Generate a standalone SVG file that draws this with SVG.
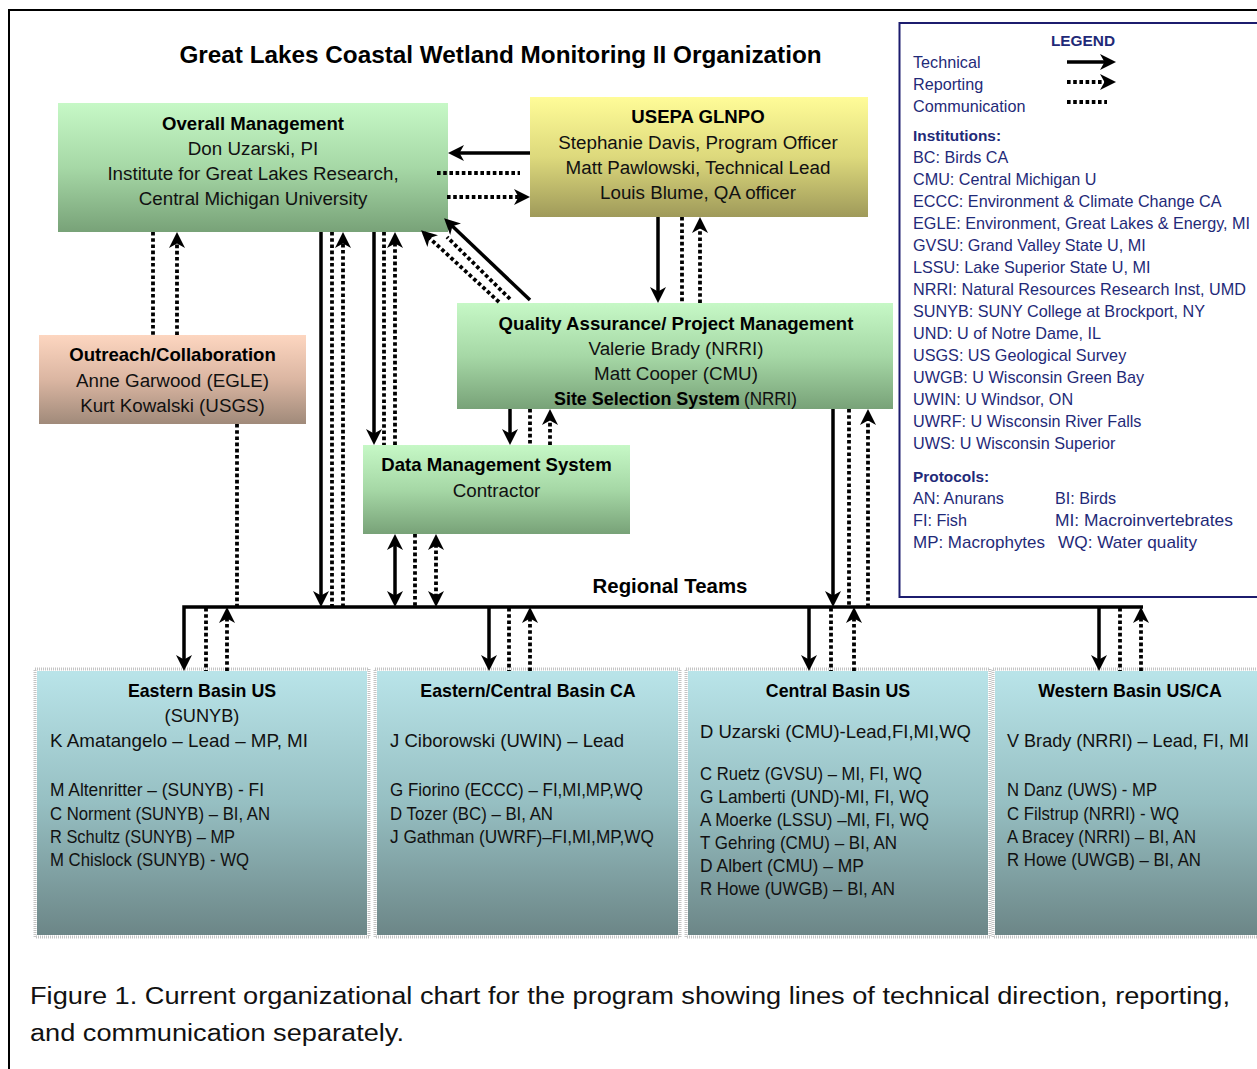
<svg xmlns="http://www.w3.org/2000/svg" width="1257" height="1069" viewBox="0 0 1257 1069">
<defs>
<linearGradient id="gGreen" x1="0" y1="0" x2="0" y2="1"><stop offset="0" stop-color="#c6f8c6"/><stop offset="0.5" stop-color="#a6d8a6"/><stop offset="1" stop-color="#78a278"/></linearGradient>
<linearGradient id="gYellow" x1="0" y1="0" x2="0" y2="1"><stop offset="0" stop-color="#fffc98"/><stop offset="0.5" stop-color="#ddd97c"/><stop offset="1" stop-color="#9f9a5a"/></linearGradient>
<linearGradient id="gSalmon" x1="0" y1="0" x2="0" y2="1"><stop offset="0" stop-color="#fdd6c0"/><stop offset="0.5" stop-color="#dbb6a2"/><stop offset="1" stop-color="#a08a7a"/></linearGradient>
<linearGradient id="gBlue" x1="0" y1="0" x2="0" y2="1"><stop offset="0" stop-color="#b9e4e9"/><stop offset="0.5" stop-color="#96bfc2"/><stop offset="1" stop-color="#6c8687"/></linearGradient>
<marker id="ah" markerUnits="userSpaceOnUse" markerWidth="16" markerHeight="16" viewBox="0 0 16 16" refX="12" refY="8" orient="auto-start-reverse"><path d="M0,0 L16,8 L0,16 L4.5,8 Z" fill="#000"/></marker>
</defs>
<style>
text{font-family:"Liberation Sans",Arial,sans-serif;}
.ttl{font-size:24.3px;font-weight:bold;fill:#000;text-anchor:middle;}
.bx{font-size:18.8px;fill:#111;text-anchor:middle;}
.bxb{font-size:18.6px;font-weight:bold;fill:#000;text-anchor:middle;}
.st{text-anchor:start;}
.leg{font-size:16.2px;fill:#1f2a78;}
.legb{font-size:15.4px;font-weight:bold;fill:#1f2a78;}
.tm{font-size:18.2px;fill:#111;}
.tmb{font-size:17.8px;font-weight:bold;fill:#000;text-anchor:middle;}
.cap{font-size:23px;fill:#111;}
.sol{stroke:#000;stroke-width:3.5;fill:none;}
.dot{stroke:#000;stroke-width:3.8;fill:none;stroke-dasharray:3.6 2.6;}
.arr{marker-end:url(#ah);}
.arr2{marker-start:url(#ah);marker-end:url(#ah);}
.shadow{fill:none;stroke:#c4c4c4;stroke-width:3;stroke-dasharray:1 1;}
</style>
<rect x="0" y="0" width="1257" height="1069" fill="#fff"/>
<rect x="9" y="10" width="1262" height="1075" fill="#fff" stroke="#000" stroke-width="2"/>
<text class="ttl" x="500.5" y="63">Great Lakes Coastal Wetland Monitoring II Organization</text>

<g id="legend">
<rect x="899.5" y="23" width="372" height="574" fill="#fff" stroke="#1c1c6e" stroke-width="2"/>
<text class="legb" x="1083" y="46" style="text-anchor:middle">LEGEND</text>
<text class="leg" x="913" y="68">Technical</text>
<text class="leg" x="913" y="90">Reporting</text>
<text class="leg" x="913" y="112">Communication</text>
<line class="sol arr" x1="1067" y1="62" x2="1112" y2="62"/>
<line class="dot arr" x1="1067" y1="82" x2="1112" y2="82"/>
<line class="dot" x1="1067" y1="102" x2="1107" y2="102"/>
<text class="legb" x="913" y="141">Institutions:</text>
<text class="leg" x="913" y="163">BC: Birds CA</text>
<text class="leg" x="913" y="185">CMU: Central Michigan U</text>
<text class="leg" x="913" y="207">ECCC: Environment &amp; Climate Change CA</text>
<text class="leg" x="913" y="229">EGLE: Environment, Great Lakes &amp; Energy, MI</text>
<text class="leg" x="913" y="251">GVSU: Grand Valley State U, MI</text>
<text class="leg" x="913" y="273">LSSU: Lake Superior State U, MI</text>
<text class="leg" x="913" y="295">NRRI: Natural Resources Research Inst, UMD</text>
<text class="leg" x="913" y="317">SUNYB: SUNY College at Brockport, NY</text>
<text class="leg" x="913" y="339">UND: U of Notre Dame, IL</text>
<text class="leg" x="913" y="361">USGS: US Geological Survey</text>
<text class="leg" x="913" y="383">UWGB: U Wisconsin Green Bay</text>
<text class="leg" x="913" y="405">UWIN: U Windsor, ON</text>
<text class="leg" x="913" y="427">UWRF: U Wisconsin River Falls</text>
<text class="leg" x="913" y="449">UWS: U Wisconsin Superior</text>
<text class="legb" x="913" y="482">Protocols:</text>
<text class="leg" x="913" y="504">AN: Anurans</text>
<text class="leg" x="1055" y="504">BI: Birds</text>
<text class="leg" x="913" y="526">FI: Fish</text>
<text class="leg" x="1055" y="526" textLength="178" lengthAdjust="spacingAndGlyphs">MI: Macroinvertebrates</text>
<text class="leg" x="913" y="548" textLength="132" lengthAdjust="spacingAndGlyphs">MP: Macrophytes</text>
<text class="leg" x="1058" y="548" textLength="139" lengthAdjust="spacingAndGlyphs">WQ: Water quality</text>
</g>

<g id="overall">
<rect x="58" y="103" width="390" height="129" fill="url(#gGreen)"/>
<text class="bxb" x="253" y="130">Overall Management</text>
<text class="bx" x="253" y="155">Don Uzarski, PI</text>
<text class="bx" x="253" y="180">Institute for Great Lakes Research,</text>
<text class="bx" x="253" y="205">Central Michigan University</text>
</g>

<g id="usepa">
<rect x="530" y="97" width="338" height="120" fill="url(#gYellow)"/>
<text class="bxb" x="698" y="123">USEPA GLNPO</text>
<text class="bx" x="698" y="149">Stephanie Davis, Program Officer</text>
<text class="bx" x="698" y="174">Matt Pawlowski, Technical Lead</text>
<text class="bx" x="698" y="199">Louis Blume, QA officer</text>
</g>

<g id="qa">
<rect x="457" y="303" width="436" height="106" fill="url(#gGreen)"/>
<text class="bxb" x="676" y="330">Quality Assurance/ Project Management</text>
<text class="bx" x="676" y="355">Valerie Brady (NRRI)</text>
<text class="bx" x="676" y="380">Matt Cooper (CMU)</text>
<text class="bxb st" x="554" y="405" textLength="186" lengthAdjust="spacingAndGlyphs">Site Selection System</text>
<text class="bx st" x="744" y="405" textLength="53" lengthAdjust="spacingAndGlyphs">(NRRI)</text>
</g>

<g id="outreach">
<rect x="39" y="335" width="267" height="89" fill="url(#gSalmon)"/>
<text class="bxb" x="172.5" y="361">Outreach/Collaboration</text>
<text class="bx" x="172.5" y="387">Anne Garwood (EGLE)</text>
<text class="bx" x="172.5" y="412">Kurt Kowalski (USGS)</text>
</g>

<g id="datamgmt">
<rect x="363" y="445" width="267" height="89" fill="url(#gGreen)"/>
<text class="bxb" x="496.5" y="471">Data Management System</text>
<text class="bx" x="496.5" y="497">Contractor</text>
</g>

<text x="670" y="593" font-size="20.4px" font-weight="bold" text-anchor="middle">Regional Teams</text>

<g id="eastern-us">
<rect class="shadow" x="35" y="669" width="334" height="268"/>
<rect x="37" y="671" width="330" height="264" fill="url(#gBlue)"/>
<text class="tmb" x="202" y="697">Eastern Basin US</text>
<text class="tm" x="202" y="722" style="text-anchor:middle">(SUNYB)</text>
<text class="tm" x="50" y="747" textLength="258" lengthAdjust="spacingAndGlyphs">K Amatangelo – Lead – MP, MI</text>
<text class="tm" x="50" y="796" textLength="214" lengthAdjust="spacingAndGlyphs">M Altenritter – (SUNYB) - FI</text>
<text class="tm" x="50" y="820" textLength="220" lengthAdjust="spacingAndGlyphs">C Norment (SUNYB) – BI, AN</text>
<text class="tm" x="50" y="843" textLength="185" lengthAdjust="spacingAndGlyphs">R Schultz (SUNYB) – MP</text>
<text class="tm" x="50" y="866" textLength="199" lengthAdjust="spacingAndGlyphs">M Chislock (SUNYB) - WQ</text>
</g>

<g id="eastern-central-ca">
<rect class="shadow" x="375" y="669" width="305" height="268"/>
<rect x="377" y="671" width="301" height="264" fill="url(#gBlue)"/>
<text class="tmb" x="528" y="697">Eastern/Central Basin CA</text>
<text class="tm" x="390" y="747" textLength="234" lengthAdjust="spacingAndGlyphs">J Ciborowski (UWIN) – Lead</text>
<text class="tm" x="390" y="796" textLength="253" lengthAdjust="spacingAndGlyphs">G Fiorino (ECCC) – FI,MI,MP,WQ</text>
<text class="tm" x="390" y="820" textLength="163" lengthAdjust="spacingAndGlyphs">D Tozer (BC) – BI, AN</text>
<text class="tm" x="390" y="843" textLength="264" lengthAdjust="spacingAndGlyphs">J Gathman (UWRF)–FI,MI,MP,WQ</text>
</g>

<g id="central-us">
<rect class="shadow" x="686" y="669" width="304" height="268"/>
<rect x="688" y="671" width="300" height="264" fill="url(#gBlue)"/>
<text class="tmb" x="838" y="697">Central Basin US</text>
<text class="tm" x="700" y="738" textLength="271" lengthAdjust="spacingAndGlyphs">D Uzarski (CMU)-Lead,FI,MI,WQ</text>
<text class="tm" x="700" y="780" textLength="222" lengthAdjust="spacingAndGlyphs">C Ruetz (GVSU) – MI, FI, WQ</text>
<text class="tm" x="700" y="803" textLength="229" lengthAdjust="spacingAndGlyphs">G Lamberti (UND)-MI, FI, WQ</text>
<text class="tm" x="700" y="826" textLength="229" lengthAdjust="spacingAndGlyphs">A Moerke (LSSU) –MI, FI, WQ</text>
<text class="tm" x="700" y="849" textLength="197" lengthAdjust="spacingAndGlyphs">T Gehring (CMU) – BI, AN</text>
<text class="tm" x="700" y="872" textLength="164" lengthAdjust="spacingAndGlyphs">D Albert (CMU) – MP</text>
<text class="tm" x="700" y="895" textLength="195" lengthAdjust="spacingAndGlyphs">R Howe (UWGB) – BI, AN</text>
</g>

<g id="western-us-ca">
<rect class="shadow" x="993" y="669" width="280" height="268"/>
<rect x="995" y="671" width="276" height="264" fill="url(#gBlue)"/>
<text class="tmb" x="1130" y="697">Western Basin US/CA</text>
<text class="tm" x="1007" y="747" textLength="242" lengthAdjust="spacingAndGlyphs">V Brady (NRRI) – Lead, FI, MI</text>
<text class="tm" x="1007" y="796" textLength="150" lengthAdjust="spacingAndGlyphs">N Danz (UWS) - MP</text>
<text class="tm" x="1007" y="820" textLength="172" lengthAdjust="spacingAndGlyphs">C Filstrup (NRRI) - WQ</text>
<text class="tm" x="1007" y="843" textLength="189" lengthAdjust="spacingAndGlyphs">A Bracey (NRRI) – BI, AN</text>
<text class="tm" x="1007" y="866" textLength="194" lengthAdjust="spacingAndGlyphs">R Howe (UWGB) – BI, AN</text>
</g>

<g id="connectors">
<line class="sol arr" x1="530" y1="153" x2="452" y2="153"/>
<line class="dot" x1="437" y1="173" x2="520" y2="173"/>
<line class="dot arr" x1="447" y1="197" x2="526" y2="197"/>
<line class="sol arr" x1="658" y1="217" x2="658" y2="299"/>
<line class="dot" x1="682" y1="217" x2="682" y2="303"/>
<line class="dot arr" x1="700" y1="303" x2="700" y2="221"/>
<line class="sol arr" x1="530" y1="300" x2="447" y2="221"/>
<line class="dot" x1="510" y1="299" x2="447" y2="237"/>
<line class="dot arr" x1="499" y1="302" x2="424" y2="233"/>
<line class="dot" x1="153" y1="232" x2="153" y2="335"/>
<line class="dot arr" x1="177" y1="335" x2="177" y2="236"/>
<line class="dot" x1="237" y1="424" x2="237" y2="607"/>
<line class="sol arr" x1="321" y1="232" x2="321" y2="603"/>
<line class="dot" x1="332" y1="232" x2="332" y2="607"/>
<line class="dot arr" x1="343" y1="607" x2="343" y2="236"/>
<line class="sol arr" x1="374" y1="232" x2="374" y2="441"/>
<line class="dot" x1="384" y1="232" x2="384" y2="445"/>
<line class="dot arr" x1="395" y1="445" x2="395" y2="236"/>
<line class="sol arr2" x1="395" y1="538" x2="395" y2="603"/>
<line class="dot" x1="415" y1="534" x2="415" y2="607"/>
<line class="dot arr2" x1="436" y1="538" x2="436" y2="603"/>
<line class="sol arr" x1="510" y1="409" x2="510" y2="441"/>
<line class="dot" x1="530" y1="409" x2="530" y2="445"/>
<line class="dot arr" x1="550" y1="445" x2="550" y2="413"/>
<line class="sol arr" x1="833" y1="409" x2="833" y2="603"/>
<line class="dot" x1="849" y1="409" x2="849" y2="607"/>
<line class="dot arr" x1="868" y1="607" x2="868" y2="413"/>
<path class="sol arr" d="M1143,607 H184 V667" stroke-width="3"/>
<line class="dot" x1="206" y1="608" x2="206" y2="671"/>
<line class="dot arr" x1="227" y1="671" x2="227" y2="611"/>
<line class="sol arr" x1="489" y1="607" x2="489" y2="667"/>
<line class="dot" x1="509" y1="608" x2="509" y2="671"/>
<line class="dot arr" x1="530" y1="671" x2="530" y2="611"/>
<line class="sol arr" x1="809" y1="607" x2="809" y2="667"/>
<line class="dot" x1="831" y1="608" x2="831" y2="671"/>
<line class="dot arr" x1="854" y1="671" x2="854" y2="611"/>
<line class="sol arr" x1="1099" y1="607" x2="1099" y2="667"/>
<line class="dot" x1="1120" y1="608" x2="1120" y2="671"/>
<line class="dot arr" x1="1141" y1="671" x2="1141" y2="611"/>
</g>

<text class="cap" x="30" y="1004" textLength="1200" lengthAdjust="spacingAndGlyphs">Figure 1. Current organizational chart for the program showing lines of technical direction, reporting,</text>
<text class="cap" x="30" y="1041" textLength="374" lengthAdjust="spacingAndGlyphs">and communication separately.</text>
</svg>
